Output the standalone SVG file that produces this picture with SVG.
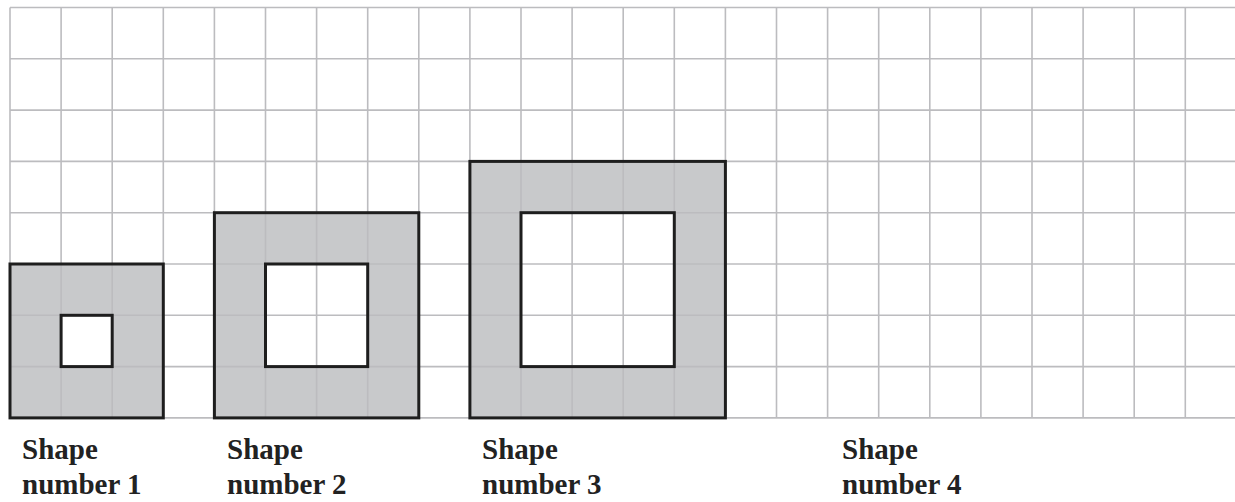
<svg xmlns="http://www.w3.org/2000/svg" width="1235" height="502" viewBox="0 0 1235 502">
<style>
.grid line{stroke:#bcbcbf;stroke-width:1.6}
.fill{fill:#c8c9cb}
.hole{fill:#ffffff}
.border{fill:none;stroke:#1e1e1e;stroke-width:3}
.lbl{font-family:"Liberation Serif","Times New Roman",serif;font-weight:bold;font-size:29px;fill:#222}
</style>
<rect width="1235" height="502" fill="#fff"/>
<g id="shape1">
<rect class="fill" x="10" y="264" width="153.3" height="153.9"/>
<rect class="hole" x="61.1" y="315.3" width="51.1" height="51.3"/>
</g>
<g id="shape2">
<rect class="fill" x="214.4" y="212.7" width="204.4" height="205.2"/>
<rect class="hole" x="265.5" y="264" width="102.2" height="102.6"/>
</g>
<g id="shape3">
<rect class="fill" x="469.9" y="161.4" width="255.5" height="256.5"/>
<rect class="hole" x="521" y="212.7" width="153.3" height="153.9"/>
</g>
<g class="grid" id="grid">
<line x1="10" y1="7.5" x2="1235" y2="7.5"/>
<line x1="10" y1="58.8" x2="1235" y2="58.8"/>
<line x1="10" y1="110.1" x2="1235" y2="110.1"/>
<line x1="10" y1="161.4" x2="1235" y2="161.4"/>
<line x1="10" y1="212.7" x2="1235" y2="212.7"/>
<line x1="10" y1="264" x2="1235" y2="264"/>
<line x1="10" y1="315.3" x2="1235" y2="315.3"/>
<line x1="10" y1="366.6" x2="1235" y2="366.6"/>
<line x1="10" y1="417.9" x2="1235" y2="417.9"/>
<line x1="10" y1="7.5" x2="10" y2="417.9"/>
<line x1="61.1" y1="7.5" x2="61.1" y2="417.9"/>
<line x1="112.2" y1="7.5" x2="112.2" y2="417.9"/>
<line x1="163.3" y1="7.5" x2="163.3" y2="417.9"/>
<line x1="214.4" y1="7.5" x2="214.4" y2="417.9"/>
<line x1="265.5" y1="7.5" x2="265.5" y2="417.9"/>
<line x1="316.6" y1="7.5" x2="316.6" y2="417.9"/>
<line x1="367.7" y1="7.5" x2="367.7" y2="417.9"/>
<line x1="418.8" y1="7.5" x2="418.8" y2="417.9"/>
<line x1="469.9" y1="7.5" x2="469.9" y2="417.9"/>
<line x1="521" y1="7.5" x2="521" y2="417.9"/>
<line x1="572.1" y1="7.5" x2="572.1" y2="417.9"/>
<line x1="623.2" y1="7.5" x2="623.2" y2="417.9"/>
<line x1="674.3" y1="7.5" x2="674.3" y2="417.9"/>
<line x1="725.4" y1="7.5" x2="725.4" y2="417.9"/>
<line x1="776.5" y1="7.5" x2="776.5" y2="417.9"/>
<line x1="827.6" y1="7.5" x2="827.6" y2="417.9"/>
<line x1="878.7" y1="7.5" x2="878.7" y2="417.9"/>
<line x1="929.8" y1="7.5" x2="929.8" y2="417.9"/>
<line x1="980.9" y1="7.5" x2="980.9" y2="417.9"/>
<line x1="1032" y1="7.5" x2="1032" y2="417.9"/>
<line x1="1083.1" y1="7.5" x2="1083.1" y2="417.9"/>
<line x1="1134.2" y1="7.5" x2="1134.2" y2="417.9"/>
<line x1="1185.3" y1="7.5" x2="1185.3" y2="417.9"/>
</g>
<g id="borders">
<rect class="border" x="10" y="264" width="153.3" height="153.9"/>
<rect class="border" x="61.1" y="315.3" width="51.1" height="51.3"/>
<rect class="border" x="214.4" y="212.7" width="204.4" height="205.2"/>
<rect class="border" x="265.5" y="264" width="102.2" height="102.6"/>
<rect class="border" x="469.9" y="161.4" width="255.5" height="256.5"/>
<rect class="border" x="521" y="212.7" width="153.3" height="153.9"/>
</g>
<g id="labels">
<text class="lbl" x="22" y="459">Shape</text>
<text class="lbl" x="22" y="494">number 1</text>
<text class="lbl" x="227" y="459">Shape</text>
<text class="lbl" x="227" y="494">number 2</text>
<text class="lbl" x="482" y="459">Shape</text>
<text class="lbl" x="482" y="494">number 3</text>
<text class="lbl" x="842" y="459">Shape</text>
<text class="lbl" x="842" y="494">number 4</text>
</g>
</svg>
